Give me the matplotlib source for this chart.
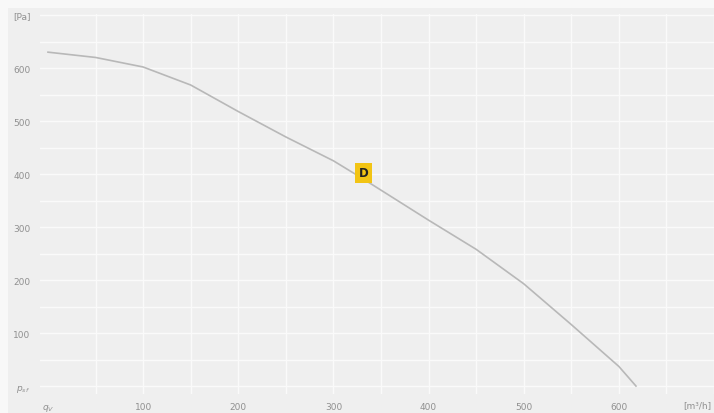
import numpy as np
import matplotlib as mpl
mpl.use('Agg')
from matplotlib import pyplot as plt
from matplotlib.patches import Rectangle

# fan curve: air flow [m3/h] vs static pressure [Pa]
flow = [0, 50, 100, 150, 200, 250, 300, 332, 400, 450, 500, 550, 600, 618]
pressure = [630, 620, 602, 568, 518, 470, 425, 390, 313, 258, 193, 116, 37, 0]

# duty point
duty_label = 'D'
duty_flow = 332
duty_pressure = 402

y_ticks = list(range(0, 701, 50))
y_labels = ['$p_{sf}$', '', '100', '', '200', '', '300', '', '400', '', '500', '', '600', '', '[Pa]']
x_ticks = list(range(0, 701, 50))
x_labels = ['$q_V$', '', '100', '', '200', '', '300', '', '400', '', '500', '', '600', '', '']
x_unit = '[m³/h]'

W, H = 714, 414
fig = plt.figure(figsize=(W / 100, H / 100), dpi=100, facecolor='#f8f8f8')
fig.patches.append(Rectangle((8 / W, 0), 1, 1 - 9 / H, transform=fig.transFigure,
                             facecolor='#efefef', edgecolor='none', zorder=-10))

ax = fig.add_axes([40 / W, 19 / H, 674 / W, 380 / H])
ax.set_facecolor('none')
ax.set_xlim(-8.4, 697)
ax.set_ylim(-15, 702)
for s in ax.spines.values():
    s.set_visible(False)

ax.set_yticks(y_ticks)
ax.set_yticklabels(y_labels)
ax.set_xticks(x_ticks)
ax.set_xticklabels(x_labels)
ax.tick_params(axis='both', length=0, labelsize=6.5, labelcolor='#909090')
ax.tick_params(axis='y', pad=7)
ax.tick_params(axis='x', pad=6)

ax.grid(True, color='#fafafa', linewidth=1.0)
ax.set_axisbelow(True)
# no vertical grid line at q = 0
ax.get_xgridlines()[0].set_visible(False)

ax.plot(flow, pressure, color='#b8b8b8', linewidth=1.2, zorder=3,
        solid_joinstyle='round')

ax.text(duty_flow, duty_pressure, duty_label, ha='center', va='center',
        fontsize=8.5, fontweight='bold', color='#222222', zorder=4,
        bbox=dict(boxstyle='square,pad=0.3', facecolor='#f2c414', edgecolor='none'))

ax.text(0.975, -0.028, x_unit, transform=ax.transAxes, ha='center', va='center',
        fontsize=6.5, color='#909090')

plt.savefig('out.png', dpi=100, facecolor=fig.get_facecolor())
plt.close()
